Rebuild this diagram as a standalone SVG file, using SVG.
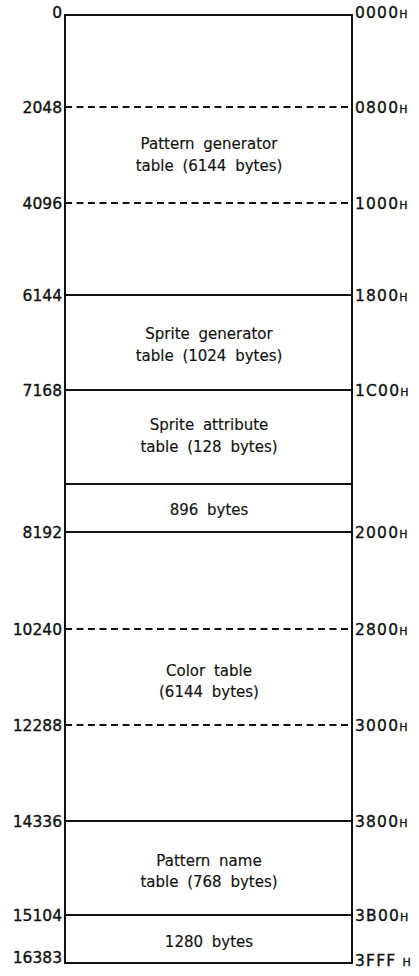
<svg xmlns="http://www.w3.org/2000/svg" width="419" height="976" viewBox="0 0 419 976">
<style>
text{font-family:"DejaVu Sans","Liberation Sans",sans-serif;fill:#111}
.lbl{font-size:15.5px;stroke:#111;stroke-width:0.35}
.l{text-anchor:end}
.r{text-anchor:start;letter-spacing:1.2px}
.h{font-size:11px;letter-spacing:0}
.c{font-size:15px;text-anchor:middle;word-spacing:4px;stroke:#111;stroke-width:0.15}
.solid{stroke:#111;stroke-width:2;fill:none}
.dash{stroke:#111;stroke-width:1.8;fill:none;stroke-dasharray:7 4.5}
</style>
<rect width="419" height="976" fill="#fff"/>
<g id="connectors">
<rect class="solid" x="65" y="15" width="287" height="948"/>
<line class="dash" x1="65" y1="107" x2="352" y2="107"/>
<line class="dash" x1="65" y1="203" x2="352" y2="203"/>
<line class="solid" x1="65" y1="295" x2="352" y2="295"/>
<line class="solid" x1="65" y1="390" x2="352" y2="390"/>
<line class="solid" x1="65" y1="484" x2="352" y2="484"/>
<line class="solid" x1="65" y1="532" x2="352" y2="532"/>
<line class="dash" x1="65" y1="629" x2="352" y2="629"/>
<line class="dash" x1="65" y1="725" x2="352" y2="725"/>
<line class="solid" x1="65" y1="821" x2="352" y2="821"/>
<line class="solid" x1="65" y1="915" x2="352" y2="915"/>
</g>
<g id="pattern-generator">
<text class="c" x="209" y="149">Pattern generator</text>
<text class="c" x="209" y="171">table (6144 bytes)</text>
</g>
<g id="sprite-generator">
<text class="c" x="209" y="339">Sprite generator</text>
<text class="c" x="209" y="361">table (1024 bytes)</text>
</g>
<g id="sprite-attribute">
<text class="c" x="209" y="430">Sprite attribute</text>
<text class="c" x="209" y="452">table (128 bytes)</text>
</g>
<g id="free-896">
<text class="c" x="209" y="515">896 bytes</text>
</g>
<g id="color-table">
<text class="c" x="209" y="676">Color table</text>
<text class="c" x="209" y="697">(6144 bytes)</text>
</g>
<g id="pattern-name">
<text class="c" x="209" y="866">Pattern name</text>
<text class="c" x="209" y="887">table (768 bytes)</text>
</g>
<g id="free-1280">
<text class="c" x="209" y="947">1280 bytes</text>
</g>
<g id="decimal-labels">
<text class="lbl l" x="62" y="18">0</text>
<text class="lbl l" x="62" y="113">2048</text>
<text class="lbl l" x="62" y="209">4096</text>
<text class="lbl l" x="62" y="301">6144</text>
<text class="lbl l" x="62" y="396">7168</text>
<text class="lbl l" x="62" y="538">8192</text>
<text class="lbl l" x="62" y="635">10240</text>
<text class="lbl l" x="62" y="731">12288</text>
<text class="lbl l" x="62" y="827">14336</text>
<text class="lbl l" x="62" y="921">15104</text>
<text class="lbl l" x="62" y="963">16383</text>
</g>
<g id="hex-labels">
<text class="lbl r" x="355" y="18">0000<tspan class="h">H</tspan></text>
<text class="lbl r" x="355" y="113">0800<tspan class="h">H</tspan></text>
<text class="lbl r" x="355" y="209">1000<tspan class="h">H</tspan></text>
<text class="lbl r" x="355" y="301">1800<tspan class="h">H</tspan></text>
<text class="lbl r" x="355" y="396">1C00<tspan class="h">H</tspan></text>
<text class="lbl r" x="355" y="538">2000<tspan class="h">H</tspan></text>
<text class="lbl r" x="355" y="635">2800<tspan class="h">H</tspan></text>
<text class="lbl r" x="355" y="731">3000<tspan class="h">H</tspan></text>
<text class="lbl r" x="355" y="827">3800<tspan class="h">H</tspan></text>
<text class="lbl r" x="355" y="921">3B00<tspan class="h">H</tspan></text>
<text class="lbl r" x="355" y="966">3FFF <tspan class="h">H</tspan></text>
</g>
</svg>
